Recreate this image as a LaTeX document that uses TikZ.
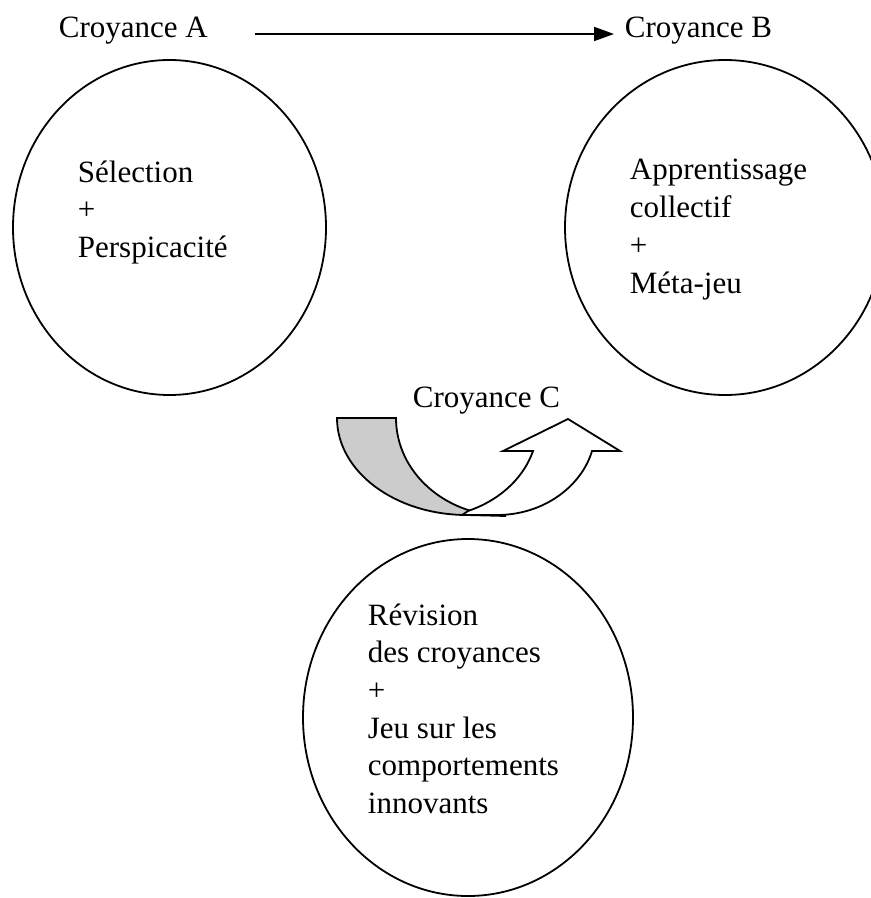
\documentclass[tikz,border=0pt]{standalone}
\usepackage{fontspec}
\setmainfont{Liberation Serif}
\usetikzlibrary{positioning, shapes.geometric, arrows.meta, calc}
\definecolor{grisC}{RGB}{204,204,204}

\begin{document}
\begin{tikzpicture}[x=0.5pt, y=-0.5pt, line width=0.9pt,
  txt/.style={inner sep=0pt, anchor=base west, align=left, font=\fontsize{15.5}{18.85}\selectfont},
  bulle/.style={draw, ellipse, inner sep=0pt}]
\useasboundingbox (0,0) rectangle (871,898);
\node (croyA) [txt] at (58,38) {Croyance A};
\node (croyB) [txt] at (624,38) {Croyance B};
\node (croyC) [txt] at (412,407) {Croyance C};
\node (A) [bulle, minimum width=156.5pt, minimum height=167.5pt] at (169.5,227.5) {};
\node (B) [bulle, minimum width=160pt, minimum height=167.5pt] at (725,227.5) {};
\node (C) [bulle, minimum width=165pt, minimum height=178.5pt] at (468,717.5) {};
% base = last line
\node (txtA) [txt] at (77,257.5) {Sélection\\+\\Perspicacité};
\node (txtB) [txt] at (629,293) {Apprentissage\\collectif\\+\\Méta-jeu};
\node (txtC) [txt] at (367,813.5) {Révision\\des croyances\\+\\Jeu sur les\\comportements\\innovants};
\draw [-{Triangle[length=10pt,width=7pt]}] ($(croyA.base east)+(46,-4)$) -- ($(croyB.base west)+(-10,-4)$);
% curved arrow
\draw [fill=grisC] (337,418) -- (396,418) .. controls (396,472) and (445,516) .. (506,516)
  -- (467,515) .. controls (395,515) and (337,471.5) .. (337,418) -- cycle;
\draw [fill=white] (468,511) .. controls (495,502) and (522,482) .. (533,451) -- (503,451)
  -- (568,419) -- (620,451) -- (592,451) .. controls (582,485) and (545,515) .. (497,515)
  -- (462,515) -- cycle;
\end{tikzpicture}
\end{document}
